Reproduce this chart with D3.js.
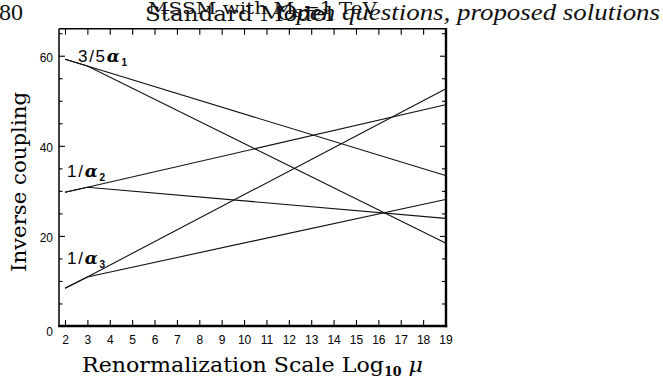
<!DOCTYPE html>
<html><head><meta charset="utf-8">
<script src="https://cdn.jsdelivr.net/npm/d3@7"></script>
<style>body{margin:0;background:#fff} svg{display:block}</style>
</head><body>
<svg id="c" width="663" height="379"></svg>
<script>
// ---- data ----
const scaleKnots = [2, 3, 19];               // log10(mu) break points (SUSY scale at 10^3)
const smInvA1   = [59.2, 57.7, 33.4];
const smInvA2   = [29.7, 30.8, 49.1];
const smInvA3   = [8.4, 10.9, 52.6];
const mssmInvA1 = [59.2, 57.7, 18.4];
const mssmInvA2 = [29.7, 30.8, 23.9];
const mssmInvA3 = [8.4, 10.9, 28.1];
const xTickValues = d3.range(2, 20);
const yLabelValues = [0, 20, 40, 60];
const yTickValues = d3.range(0, 70, 5);
const seriesList = [smInvA1, smInvA2, smInvA3, mssmInvA1, mssmInvA2, mssmInvA3];

const svg = d3.select("#c");
const L = 59, R = 446, T = 28.7, B = 326;
const x = d3.scaleLinear().domain([2, 19]).range([65, 445.5]);
const y = d3.scaleLinear().domain([0, 66]).range([B, T]);

// ---- header texts ----
svg.append("text").attr("x", -1).attr("y", 20)
  .style("font-family", "Liberation Serif").style("font-size", "24px").attr("fill", "#111").text("80");
const h1 = svg.append("text").attr("x", 148).attr("y", 14)
  .style("font-family", "DejaVu Serif").style("font-size", "16px").attr("fill", "#111")
  .attr("textLength", 229).attr("lengthAdjust", "spacingAndGlyphs");
h1.append("tspan").text("MSSM with M");
h1.append("tspan").attr("dy", 3).style("font-size", "0.65em").text("S");
h1.append("tspan").attr("dy", -3).text("=1 TeV");
svg.append("text").attr("x", 145).attr("y", 21)
  .style("font-family", "DejaVu Serif").style("font-size", "20px").attr("fill", "#111")
  .attr("textLength", 188).attr("lengthAdjust", "spacingAndGlyphs").text("Standard Model");
svg.append("text").attr("x", 277).attr("y", 20)
  .style("font-family", "Liberation Serif").style("font-style", "italic").style("font-size", "24px").attr("fill", "#111")
  .attr("textLength", 383).attr("lengthAdjust", "spacingAndGlyphs").text("Open questions, proposed solutions");

// ---- axes ----
const tickFont = g => g.selectAll("text").style("font-family", "Liberation Sans").style("font-size", "12px").attr("fill", "#000");

const gb = svg.append("g").attr("transform", `translate(0,${B})`)
  .call(d3.axisBottom(x).tickValues(xTickValues).tickSizeInner(-6).tickSizeOuter(0).tickPadding(9));
gb.call(tickFont);
const gt = svg.append("g").attr("transform", `translate(0,${T})`)
  .call(d3.axisTop(x).tickValues(xTickValues).tickSizeInner(-6).tickSizeOuter(0).tickFormat(""));
const gl = svg.append("g").attr("transform", `translate(${L},0)`)
  .call(d3.axisLeft(y).tickValues(yTickValues).tickSizeInner(-3.5).tickSizeOuter(0).tickPadding(6)
    .tickFormat(d => yLabelValues.includes(d) ? d : ""));
gl.call(tickFont);
gl.selectAll("text").attr("dy", d => d === 0 ? "0.75em" : "0.45em");
gl.selectAll(".tick").filter(d => yLabelValues.includes(d)).select("line").attr("x2", 6);
const gr = svg.append("g").attr("transform", `translate(${R},0)`)
  .call(d3.axisRight(y).tickValues(yTickValues).tickSizeInner(-4).tickSizeOuter(0).tickFormat(""));
gr.selectAll(".tick").filter(d => yLabelValues.includes(d)).select("line").attr("x2", -6);
[gb, gt, gl, gr].forEach(g => { g.select(".domain").remove(); g.selectAll("line").attr("stroke", "#000").attr("stroke-width", 1.1); });

// frame
svg.append("line").attr("x1", L).attr("x2", L).attr("y1", T).attr("y2", B + 1).attr("stroke", "#000").attr("stroke-width", 1.5);
svg.append("line").attr("x1", L).attr("x2", R).attr("y1", T).attr("y2", T).attr("stroke", "#000").attr("stroke-width", 1.5);
svg.append("line").attr("x1", R).attr("x2", R).attr("y1", T - 0.7).attr("y2", B + 1.2).attr("stroke", "#000").attr("stroke-width", 2.4);
svg.append("line").attr("x1", L - 0.7).attr("x2", R + 1.2).attr("y1", B).attr("y2", B).attr("stroke", "#000").attr("stroke-width", 2.4);

// ---- curves ----
const line = d3.line().x(d => x(d[0])).y(d => y(d[1]));
svg.append("g").selectAll("path").data(seriesList).join("path")
  .attr("d", s => line(scaleKnots.map((k, i) => [k, s[i]])))
  .attr("fill", "none").attr("stroke", "#111").attr("stroke-width", 1.1);

// ---- curve labels ----
function curveLabel(px, py, pre, sub, width) {
  const t = svg.append("text").attr("x", px).attr("y", py)
    .style("font-family", "Liberation Sans").style("font-size", "17px").attr("fill", "#000")
    .attr("textLength", width).attr("lengthAdjust", "spacing");
  t.append("tspan").text(pre);
  t.append("tspan").style("font-family", "DejaVu Serif").style("font-style", "italic").style("font-weight", "bold").text("\u03b1");
  t.append("tspan").attr("dy", 4).style("font-size", "10px").style("font-weight", "bold").text(sub);
}
curveLabel(78, 61.5, "3/5", "1", 49);
curveLabel(67, 177, "1/", "2", 38);
curveLabel(67, 264, "1/", "3", 38);

// ---- axis titles ----
const xt = svg.append("text").attr("x", 82).attr("y", 372)
  .style("font-family", "DejaVu Serif").style("font-size", "21px").attr("fill", "#000")
  .attr("textLength", 341).attr("lengthAdjust", "spacingAndGlyphs");
xt.append("tspan").text("Renormalization Scale Log");
xt.append("tspan").attr("dy", 4).style("font-size", "12px").style("font-weight", "bold").text("10");
xt.append("tspan").attr("dy", -4).text(" ");
xt.append("tspan").style("font-style", "italic").text("\u03bc");

svg.append("text").attr("transform", "translate(26,182) rotate(-90)").attr("text-anchor", "middle")
  .style("font-family", "DejaVu Serif").style("font-size", "21px").attr("fill", "#000")
  .attr("textLength", 180).attr("lengthAdjust", "spacingAndGlyphs").text("Inverse coupling");
</script>
</body></html>
